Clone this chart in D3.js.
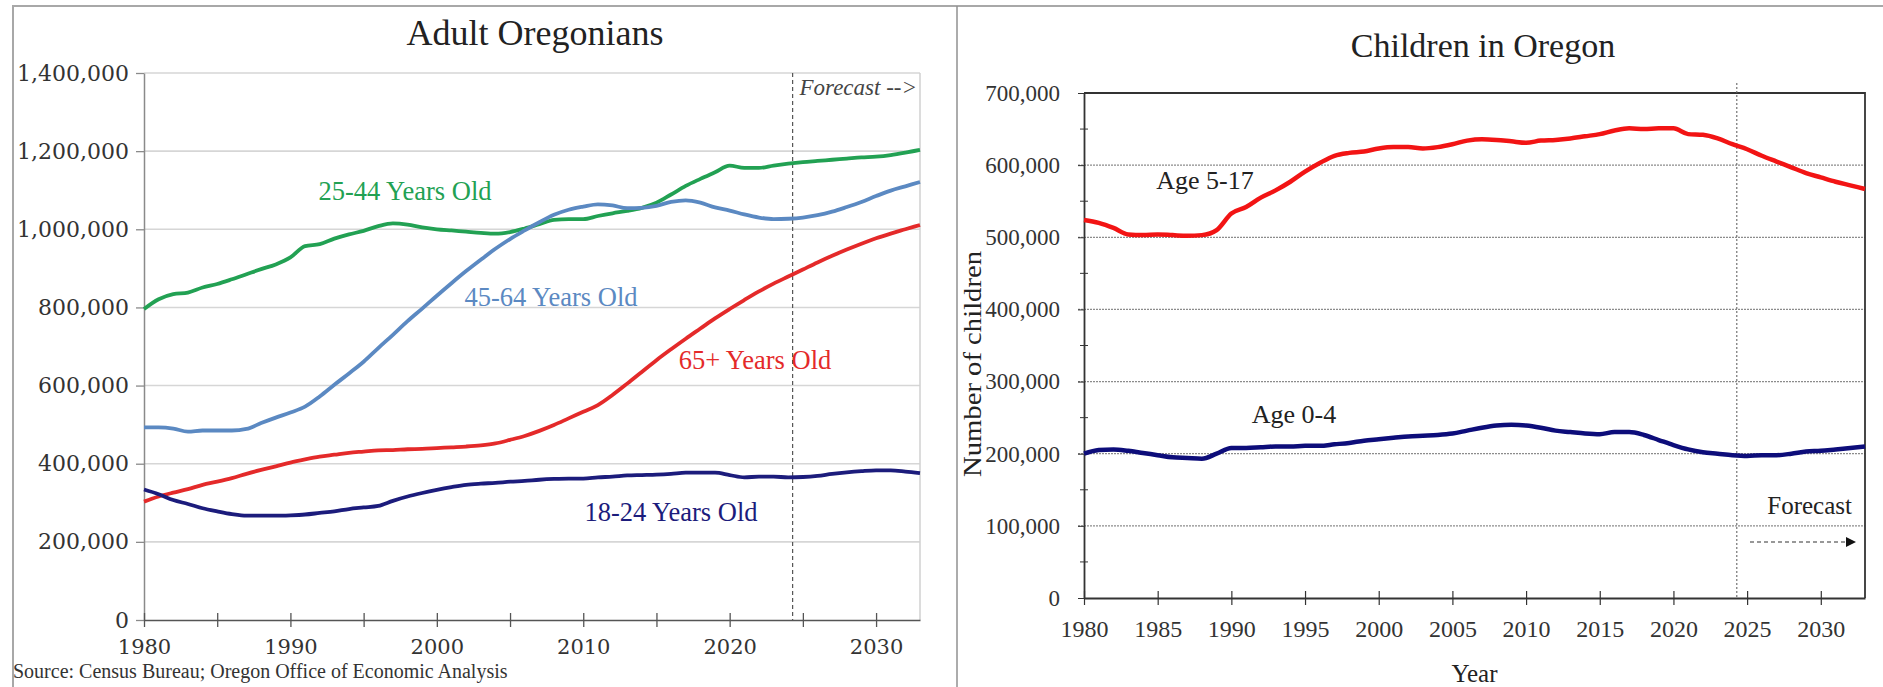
<!DOCTYPE html>
<html>
<head>
<meta charset="utf-8">
<script src="https://cdn.jsdelivr.net/npm/d3@7/dist/d3.min.js"></script>
<style>
  body { margin: 0; background: #fff; }
</style>
</head>
<body>
<svg id="chart" width="1883" height="687" font-family="Liberation Serif, serif"></svg>
<script>
// years on both charts
const years = [1980,1981,1982,1983,1984,1985,1986,1987,1988,1989,
  1990,1991,1992,1993,1994,1995,1996,1997,1998,1999,
  2000,2001,2002,2003,2004,2005,2006,2007,2008,2009,
  2010,2011,2012,2013,2014,2015,2016,2017,2018,2019,
  2020,2021,2022,2023,2024,2025,2026,2027,2028,2029,
  2030,2031,2032,2033]

// Adult Oregonians (persons)
const age25to44 = [796000,821000,834000,838000,851000,860000,872000,885000,898000,910000,
  928000,957000,962000,976000,987000,996000,1008000,1015000,1012000,1005000,
  1000000,997000,994000,991000,989000,993000,1002000,1013000,1024000,1026000,
  1026000,1034000,1041000,1047000,1055000,1068000,1089000,1111000,1129000,1146000,
  1163000,1157000,1157000,1163000,1168000,1172000,1175000,1178000,1181000,1184000,
  1186000,1190000,1196000,1203000]
const age45to64 = [493000,493000,490000,482000,485000,485000,485000,489000,504000,518000,
  531000,546000,572000,602000,631000,661000,696000,730000,765000,797000,
  830000,862000,893000,922000,950000,975000,997000,1018000,1037000,1050000,
  1058000,1064000,1061000,1054000,1055000,1060000,1070000,1074000,1068000,1056000,
  1048000,1038000,1030000,1026000,1027000,1030000,1036000,1045000,1057000,1070000,
  1085000,1099000,1110000,1121000]
const age65plus = [303000,316000,326000,335000,346000,354000,363000,374000,384000,393000,
  403000,411000,418000,423000,428000,431000,434000,435000,437000,438000,
  440000,442000,444000,447000,452000,461000,471000,484000,499000,516000,
  533000,550000,576000,605000,635000,665000,693000,720000,746000,772000,
  796000,819000,841000,861000,879000,897000,915000,932000,948000,963000,
  977000,989000,1000000,1011000]
const age18to24 = [334000,322000,307000,297000,286000,278000,271000,267000,267000,267000,
  268000,270000,274000,278000,284000,288000,292000,305000,316000,325000,
  333000,340000,346000,349000,351000,354000,356000,359000,361000,362000,
  362000,365000,367000,370000,371000,372000,374000,377000,377000,377000,
  371000,365000,367000,367000,365000,366000,369000,374000,378000,381000,
  383000,383000,380000,376000]

// Children in Oregon
const age5to17 = [524000,520000,513000,504000,503000,504000,503000,502000,503000,510000,
  533000,542000,555000,565000,577000,591000,603000,613000,617000,619000,
  623000,625000,625000,623000,625000,629000,634000,636000,635000,633000,
  631000,634000,635000,637000,640000,643000,648000,651000,650000,651000,
  651000,643000,642000,637000,629000,622000,613000,605000,597000,589000,
  583000,577000,572000,567000]
const age0to4 = [200000,205000,206000,204000,201000,198000,195000,194000,193000,200000,
  208000,208000,209000,210000,210000,211000,211000,213000,215000,218000,
  220000,222000,224000,225000,226000,228000,232000,236000,239000,240000,
  239000,236000,232000,230000,228000,227000,230000,230000,226000,219000,
  212000,206000,202000,200000,198000,197000,198000,198000,200000,203000,
  204000,206000,208000,210000]

const forecastYear = 2024.3

// tick labels
const adultYTicks = [0,200000,400000,600000,800000,1000000,1200000,1400000]
const adultXTicks = [1980,1985,1990,1995,2000,2005,2010,2015,2020,2025,2030]
const adultXLabels = [1980,1990,2000,2010,2020,2030]
const childYTicks = [0,100000,200000,300000,400000,500000,600000,700000]
const childYMinor = [50000,150000,250000,350000,450000,550000,650000]
const childXTicks = [1980,1985,1990,1995,2000,2005,2010,2015,2020,2025,2030]

const svg = d3.select('#chart')
const fmt = d3.format(',')

// outer frame and divider
svg.append('path').attr('d', 'M13,687V6H1883')
  .attr('fill', 'none').attr('stroke', '#a8a8a8').attr('stroke-width', 2)
svg.append('line').attr('x1', 957).attr('x2', 957).attr('y1', 6).attr('y2', 687)
  .attr('stroke', '#909090').attr('stroke-width', 1.5)

// ---------- Adult Oregonians ----------
let left = svg.append('g')
let xA = d3.scaleLinear().domain([1980, 2033]).range([144, 920])
let yA = d3.scaleLinear().domain([0, 1400000]).range([620, 73])

left.append('text').attr('x', 535).attr('y', 45).attr('text-anchor', 'middle')
  .attr('font-size', 36).attr('fill', '#222').text('Adult Oregonians')

// gridlines
left.append('g').selectAll('line').data(adultYTicks.filter(d => d > 0)).enter()
  .append('line')
  .attr('x1', xA(1980)).attr('x2', xA(2033))
  .attr('y1', d => yA(d)).attr('y2', d => yA(d))
  .attr('stroke', '#d6d6d6').attr('stroke-width', 1.6)
left.append('line').attr('x1', xA(2033)).attr('x2', xA(2033))
  .attr('y1', yA(1400000)).attr('y2', yA(0))
  .attr('stroke', '#d0d0d0').attr('stroke-width', 1.5)

// y axis
let gyA = left.append('g').attr('transform', `translate(${xA(1980)},0)`)
  .call(d3.axisLeft(yA).tickValues(adultYTicks).tickSize(8).tickSizeOuter(0).tickFormat(fmt))
gyA.select('.domain').attr('stroke', '#8a8a8a').attr('stroke-width', 1.5)
gyA.selectAll('.tick line').attr('stroke', '#8a8a8a').attr('stroke-width', 1.3)
gyA.selectAll('text').attr('x', -15).attr('font-family', 'DejaVu Serif')
  .attr('font-size', 22).attr('fill', '#333')

// x axis
let gxA = left.append('g').attr('transform', `translate(0,${yA(0)})`)
  .call(d3.axisBottom(xA).tickValues(adultXTicks).tickSize(7).tickSizeOuter(0)
    .tickFormat(d => adultXLabels.includes(d) ? d : ''))
gxA.select('.domain').attr('stroke', '#555').attr('stroke-width', 1.6)
gxA.selectAll('.tick line').attr('y1', -7).attr('stroke', '#555').attr('stroke-width', 1.3)
gxA.selectAll('text').attr('y', 19).attr('font-family', 'DejaVu Serif')
  .attr('font-size', 21).attr('fill', '#333')

// forecast divider
left.append('line').attr('x1', xA(forecastYear)).attr('x2', xA(forecastYear))
  .attr('y1', yA(1400000)).attr('y2', yA(0))
  .attr('stroke', '#555').attr('stroke-width', 1.2).attr('stroke-dasharray', '4,3')
left.append('text').attr('x', 917).attr('y', 95).attr('text-anchor', 'end')
  .attr('font-size', 23).attr('font-style', 'italic').attr('fill', '#444')
  .text('Forecast -->')

let adultSeries = [
  {name: '25-44 Years Old', values: age25to44, color: '#22a153', lx: 405, ly: 200},
  {name: '45-64 Years Old', values: age45to64, color: '#5b89c2', lx: 551, ly: 306},
  {name: '65+ Years Old', values: age65plus, color: '#e42a2a', lx: 755, ly: 369},
  {name: '18-24 Years Old', values: age18to24, color: '#1c1c7c', lx: 671, ly: 521}
]
let lineA = d3.line().x((d, i) => xA(years[i])).y(d => yA(d)).curve(d3.curveMonotoneX)
adultSeries.forEach(s => {
  left.append('path').attr('d', lineA(s.values))
    .attr('fill', 'none').attr('stroke', s.color).attr('stroke-width', 3.8)
    .attr('stroke-linejoin', 'round')
})
adultSeries.forEach(s => {
  left.append('text').attr('x', s.lx).attr('y', s.ly).attr('text-anchor', 'middle')
    .attr('font-size', 26.5).attr('fill', s.color).text(s.name)
})

left.append('text').attr('x', 13).attr('y', 678).attr('font-size', 20).attr('fill', '#333')
  .text('Source: Census Bureau; Oregon Office of Economic Analysis')

// ---------- Children in Oregon ----------
let right = svg.append('g')
let xC = d3.scaleLinear().domain([1980, 2033]).range([1084, 1865])
let yC = d3.scaleLinear().domain([0, 700000]).range([598, 93])

right.append('text').attr('x', 1483).attr('y', 57).attr('text-anchor', 'middle')
  .attr('font-size', 34).attr('fill', '#222').text('Children in Oregon')

right.append('g').selectAll('line').data(childYTicks.filter(d => d > 0 && d < 700000)).enter()
  .append('line')
  .attr('x1', xC(1980) - 6).attr('x2', xC(2033))
  .attr('y1', d => yC(d)).attr('y2', d => yC(d))
  .attr('stroke', '#8c8c8c').attr('stroke-width', 1.3).attr('stroke-dasharray', '2,1')

// plot box top and right
right.append('path')
  .attr('d', `M${xC(1980)},${yC(700000)}H${xC(2033)}V${yC(0)}`)
  .attr('fill', 'none').attr('stroke', '#333').attr('stroke-width', 1.8)

let gyC = right.append('g').attr('transform', `translate(${xC(1980)},0)`)
  .call(d3.axisLeft(yC).tickValues(childYTicks).tickSize(6).tickSizeOuter(0).tickFormat(fmt))
gyC.select('.domain').attr('stroke', '#333').attr('stroke-width', 1.8)
gyC.selectAll('.tick line').attr('stroke', '#333')
gyC.selectAll('text').attr('x', -24).attr('font-family', 'Liberation Serif')
  .attr('font-size', 23).attr('fill', '#333')
right.append('g').selectAll('line').data(childYMinor).enter().append('line')
  .attr('x1', xC(1980) - 4).attr('x2', xC(1980) + 4)
  .attr('y1', d => yC(d)).attr('y2', d => yC(d)).attr('stroke', '#333')

let gxC = right.append('g').attr('transform', `translate(0,${yC(0)})`)
  .call(d3.axisBottom(xC).tickValues(childXTicks).tickSize(7).tickSizeOuter(0).tickFormat(d => d))
gxC.select('.domain').attr('stroke', '#333').attr('stroke-width', 1.8)
gxC.selectAll('.tick line').attr('y1', -7).attr('stroke', '#333').attr('stroke-width', 1.2)
gxC.selectAll('text').attr('y', 22).attr('font-family', 'Liberation Serif')
  .attr('font-size', 24).attr('fill', '#333')

right.append('text').attr('x', xC(2006.5)).attr('y', 682).attr('text-anchor', 'middle')
  .attr('font-size', 25).attr('fill', '#222').text('Year')
right.append('text').attr('transform', 'translate(981,364) rotate(-90)')
  .attr('text-anchor', 'middle').attr('font-size', 25).attr('fill', '#222')
  .attr('textLength', 226).attr('lengthAdjust', 'spacingAndGlyphs')
  .text('Number of children')

right.append('line').attr('x1', xC(forecastYear)).attr('x2', xC(forecastYear))
  .attr('y1', 83).attr('y2', yC(0))
  .attr('stroke', '#666').attr('stroke-width', 1.1).attr('stroke-dasharray', '2,2')

let childSeries = [
  {name: 'Age 5-17', values: age5to17, color: '#f21414', lx: 1205, ly: 189},
  {name: 'Age 0-4', values: age0to4, color: '#0d0d7a', lx: 1294, ly: 423}
]
let lineC = d3.line().x((d, i) => xC(years[i])).y(d => yC(d)).curve(d3.curveMonotoneX)
childSeries.forEach(s => {
  right.append('path').attr('d', lineC(s.values))
    .attr('fill', 'none').attr('stroke', s.color).attr('stroke-width', 4.5)
    .attr('stroke-linejoin', 'round')
  right.append('text').attr('x', s.lx).attr('y', s.ly).attr('text-anchor', 'middle')
    .attr('font-size', 26).attr('fill', '#222').text(s.name)
})

svg.append('defs').append('marker').attr('id', 'arrow')
  .attr('viewBox', '0 0 10 10').attr('refX', 9).attr('refY', 5)
  .attr('markerWidth', 10).attr('markerHeight', 10).attr('orient', 'auto')
  .attr('markerUnits', 'userSpaceOnUse')
  .append('path').attr('d', 'M0,0L10,5L0,10Z').attr('fill', '#111')
right.append('text').attr('x', 1852).attr('y', 514).attr('text-anchor', 'end')
  .attr('font-size', 25).attr('fill', '#222').text('Forecast')
right.append('line').attr('x1', 1750).attr('x2', 1855).attr('y1', 542).attr('y2', 542)
  .attr('stroke', '#333').attr('stroke-width', 1.2).attr('stroke-dasharray', '4,3')
  .attr('marker-end', 'url(#arrow)')
</script>
</body>
</html>
